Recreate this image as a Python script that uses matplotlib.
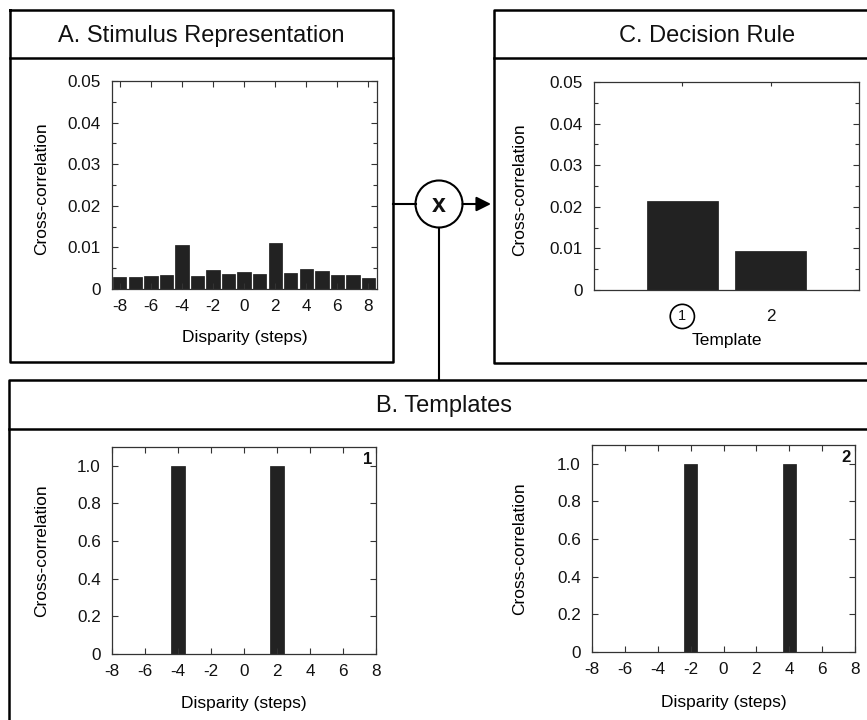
"""
Template-matching schematic: stimulus cross-correlation, two templates, decision rule.
"""
import numpy as np
import matplotlib
matplotlib.use('Agg')
import matplotlib.pyplot as plt
from matplotlib.patches import Circle
from matplotlib.ticker import MultipleLocator

# === Colors ===
BAR_COL  = '#222222'
EDGE_COL = '#1a1a1a'
SPINE    = '#333333'

plt.rcParams.update({
    'font.family': ['Liberation Sans', 'DejaVu Sans'],
    'font.size': 12,
    'text.color': '#111111',
    'xtick.color': SPINE,
    'ytick.color': SPINE,
    'xtick.labelcolor': '#111111',
    'ytick.labelcolor': '#111111',
    'axes.edgecolor': SPINE,
    'axes.linewidth': 0.9,
    'axes.unicode_minus': False,
})

# === Data ===
disparity = np.arange(-8, 9)
stim_xcorr = [0.0028, 0.0030, 0.0031, 0.0034, 0.0105, 0.0032, 0.0046, 0.0037, 0.0040,
              0.0037, 0.0111, 0.0038, 0.0048, 0.0044, 0.0034, 0.0034, 0.0026]
template1_disp = [-4, 2]
template2_disp = [-2, 4]
template_vals = [1.0, 1.0]
decision_x = [1, 2]
decision_vals = [0.0215, 0.0093]
decision_labels = ['1', '2']

W, H = 867, 720
fig = plt.figure(figsize=(W / 100, H / 100), dpi=100, facecolor='white')


def px_axes(left, top, right, bottom):
    return fig.add_axes([left / W, 1 - bottom / H, (right - left) / W, (bottom - top) / H])


def style(ax):
    ax.tick_params(which='both', direction='in', top=True, right=True,
                   labelsize=12.3, width=0.8)
    ax.tick_params(which='major', length=4)
    ax.tick_params(which='minor', length=3)
    ax.tick_params(axis='y', pad=8)
    ax.tick_params(axis='x', pad=7)


# ───────── background frames / connector ─────────
bg = fig.add_axes([0, 0, 1, 1], zorder=-1)
bg.set_xlim(0, W)
bg.set_ylim(H, 0)
bg.axis('off')
lw_box = 1.8
# A box
bg.plot([10, 393, 393, 10, 10], [10, 10, 362, 362, 10], color='k', lw=lw_box)
bg.plot([10, 393], [58, 58], color='k', lw=lw_box)
# C box (runs off the right edge)
bg.plot([880, 494, 494, 880], [10, 10, 363, 363], color='k', lw=lw_box)
bg.plot([494, 880], [58, 58], color='k', lw=lw_box)
# B box (runs off right and bottom)
bg.plot([880, 9, 9], [380, 380, 740], color='k', lw=lw_box)
bg.plot([9, 880], [429, 429], color='k', lw=lw_box)
# multiply node
bg.add_patch(Circle((439, 204), 23.5, fill=False, ec='k', lw=1.5))
bg.text(439, 205, 'x', ha='center', va='center', fontsize=18, fontweight='bold')
bg.plot([393, 415.5], [204, 204], color='k', lw=1.5)
bg.plot([439, 439], [227.5, 380], color='k', lw=1.5)
bg.annotate('', xy=(491, 204), xytext=(462.5, 204),
            arrowprops=dict(arrowstyle='-|>', mutation_scale=22, color='k', lw=1.5,
                            shrinkA=0, shrinkB=0))
# panel titles
bg.text(201, 36, 'A. Stimulus Representation', ha='center', va='center', fontsize=17)
bg.text(707, 36, 'C. Decision Rule', ha='center', va='center', fontsize=17)
bg.text(444, 406, 'B. Templates', ha='center', va='center', fontsize=17)

# ───────── A: stimulus representation ─────────
axA = px_axes(112, 81, 377, 289)
axA.bar(disparity, stim_xcorr, width=0.86, color=BAR_COL, edgecolor=EDGE_COL, lw=0.5)
axA.set_xlim(-8.5, 8.55)
axA.set_ylim(0, 0.05)
axA.set_xticks(np.arange(-8, 9, 2))
axA.set_yticks([0, 0.01, 0.02, 0.03, 0.04, 0.05])
axA.set_yticklabels(['0', '0.01', '0.02', '0.03', '0.04', '0.05'])
axA.yaxis.set_minor_locator(MultipleLocator(0.005))
style(axA)
axA.set_ylabel('Cross-correlation', fontsize=12.5, va='center')
axA.yaxis.set_label_coords(-0.264, 0.48)
axA.set_xlabel('Disparity (steps)', fontsize=12.5, va='center')
axA.xaxis.set_label_coords(0.5, -0.231)

# ───────── C: decision rule ─────────
axC = px_axes(594, 82, 859, 290)
axC.bar(decision_x, decision_vals, width=0.8, color=BAR_COL, edgecolor=EDGE_COL, lw=0.5)
axC.set_xlim(0, 3)
axC.set_ylim(0, 0.05)
axC.set_xticks(decision_x)
axC.set_xticklabels(decision_labels)
axC.set_yticks([0, 0.01, 0.02, 0.03, 0.04, 0.05])
axC.set_yticklabels(['0', '0.01', '0.02', '0.03', '0.04', '0.05'])
axC.yaxis.set_minor_locator(MultipleLocator(0.005))
style(axC)
axC.tick_params(axis='x', pad=14, length=3)
axC.tick_params(axis='x', which='major', bottom=False)
lab1 = axC.get_xticklabels()[0]
lab1.set_fontsize(10.5)
lab1.set_bbox(dict(boxstyle='circle,pad=0.35', fc='white', ec='k', lw=1.2))
axC.set_ylabel('Cross-correlation', fontsize=12.5, va='center')
axC.yaxis.set_label_coords(-0.279, 0.48)
axC.set_xlabel('Template', fontsize=12.5, va='center')
axC.xaxis.set_label_coords(0.5, -0.245)

# ───────── B: templates ─────────
for (l, t, r, b), disp, tag, ylab_x, xlab_y in [
        ((112, 447, 376, 654), template1_disp, '1', -0.265, -0.237),
        ((592, 445, 855, 652), template2_disp, '2', -0.274, -0.242)]:
    ax = px_axes(l, t, r, b)
    ax.bar(disp, template_vals, width=0.82, color=BAR_COL, edgecolor=EDGE_COL, lw=0.5)
    ax.set_xlim(-8, 8)
    ax.set_ylim(0, 1.1)
    ax.set_xticks(np.arange(-8, 9, 2))
    ax.set_yticks([0, 0.2, 0.4, 0.6, 0.8, 1.0])
    ax.set_yticklabels(['0', '0.2', '0.4', '0.6', '0.8', '1.0'])
    style(ax)
    ax.text(0.985, 0.975, tag, transform=ax.transAxes, ha='right', va='top',
            fontsize=12, fontweight='bold')
    ax.set_ylabel('Cross-correlation', fontsize=12.5, va='center')
    ax.yaxis.set_label_coords(ylab_x, 0.5)
    ax.set_xlabel('Disparity (steps)', fontsize=12.5, va='center')
    ax.xaxis.set_label_coords(0.5, xlab_y)

plt.savefig('out.png', dpi=100, facecolor='white')
plt.close()
